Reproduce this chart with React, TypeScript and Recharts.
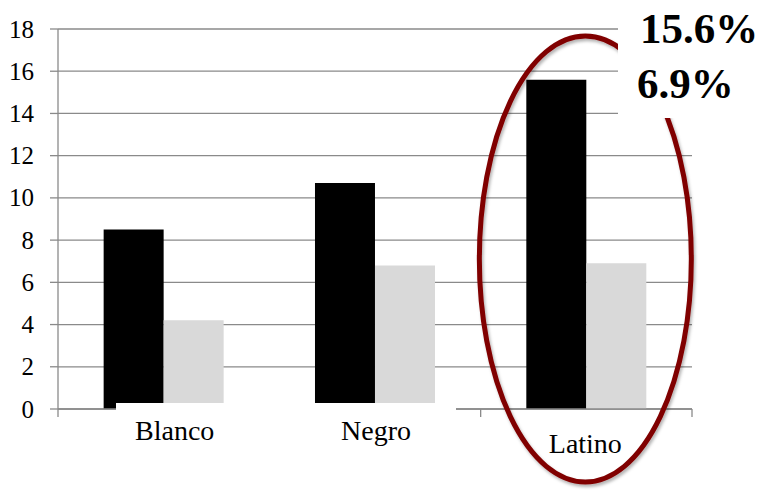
import React from 'react';
import { BarChart, Bar, XAxis, YAxis, CartesianGrid } from 'recharts';

const categories = ['Blanco', 'Negro', 'Latino'];
const seriesBlack = [8.5, 10.7, 15.6];
const seriesGray = [4.2, 6.8, 6.9];
const yTicks = [0, 2, 4, 6, 8, 10, 12, 14, 16, 18];
const calloutLabels = ['15.6%', '6.9%'];

const data = categories.map((c, i) => ({ name: c, black: seriesBlack[i], gray: seriesGray[i] }));

const W = 769;
const H = 490;
const PLOT_LEFT = 58;
const PLOT_RIGHT = 692;
const PLOT_TOP = 29;
const PLOT_BOTTOM = 409;
const BAND = (PLOT_RIGHT - PLOT_LEFT) / categories.length;
const FONT = 'Liberation Serif';
const GRID = '#8a8a8a';

const labelShift: Record<string, [number, number]> = {
  Blanco: [11, 0],
  Negro: [1, 0],
  Latino: [-1, 13],
};

function XTick(props: any) {
  const { x, y, payload, index } = props;
  const name = payload.value as string;
  const [dx, dy] = labelShift[name] || [0, 0];
  const left = x - BAND / 2 - index * BAND;
  return (
    <g>
      {index === 0 && (
        <g>
          {Array.from({ length: categories.length + 1 }, (_, k) => (
            <line key={k} x1={left + k * BAND} x2={left + k * BAND} y1={y} y2={y + 8} stroke={GRID} strokeWidth={1.3} />
          ))}
          <rect x={left + 58} y={y - 6} width={340} height={52} fill="#ffffff" />
        </g>
      )}
      <text x={x + dx} y={y + 30.5 + dy} textAnchor="middle" fontFamily={FONT} fontSize={28} fill="#000">
        {name}
      </text>
    </g>
  );
}

function YTick(props: any) {
  const { x, y, payload } = props;
  return (
    <text x={x} y={y + 8.5} textAnchor="end" fontFamily={FONT} fontSize={25} fill="#000">
      {payload.value}
    </text>
  );
}

export default function App() {
  const cx = PLOT_LEFT + BAND * 2.5 - 1;
  return (
    <div style={{ position: 'absolute', left: 0, top: 0, width: W, height: H, background: '#fff' }}>
      <BarChart
        width={W}
        height={H}
        data={data}
        margin={{ top: PLOT_TOP, right: W - PLOT_RIGHT, left: 0, bottom: 0 }}
        barCategoryGap="21.6%"
        barGap={0}
      >
        <CartesianGrid vertical={false} stroke={GRID} strokeWidth={1.3} />
        <YAxis
          width={PLOT_LEFT}
          domain={[0, 18]}
          ticks={yTicks}
          interval={0}
          tickSize={8}
          tickMargin={16}
          axisLine={{ stroke: GRID, strokeWidth: 1.3 }}
          tickLine={{ stroke: GRID, strokeWidth: 1.3 }}
          tick={<YTick />}
        />
        <Bar dataKey="black" fill="#000000" isAnimationActive={false} />
        <Bar dataKey="gray" fill="#d9d9d9" isAnimationActive={false} />
        <XAxis
          dataKey="name"
          height={H - PLOT_BOTTOM}
          tickSize={0}
          tickMargin={0}
          tickLine={false}
          axisLine={{ stroke: GRID, strokeWidth: 1.3 }}
          tick={<XTick />}
          interval={0}
        />
      </BarChart>
      <svg width={W} height={H} style={{ position: 'absolute', left: 0, top: 0, pointerEvents: 'none' }}>
        <defs>
          <filter id="sh" x="-20%" y="-20%" width="140%" height="140%">
            <feDropShadow dx="1.5" dy="2.5" stdDeviation="1.5" floodColor="#000" floodOpacity="0.3" />
          </filter>
        </defs>
        <ellipse cx={cx} cy={259} rx={106} ry={223} fill="none" stroke="#800000" strokeWidth={5} filter="url(#sh)" />
        <rect x={618} y={0} width={W - 618} height={118} fill="#ffffff" />
        <text x={640} y={43} fontFamily={FONT} fontWeight="bold" fontSize={43} fill="#000">
          {calloutLabels[0]}
        </text>
        <text x={637} y={98} fontFamily={FONT} fontWeight="bold" fontSize={43} fill="#000">
          {calloutLabels[1]}
        </text>
      </svg>
    </div>
  );
}
